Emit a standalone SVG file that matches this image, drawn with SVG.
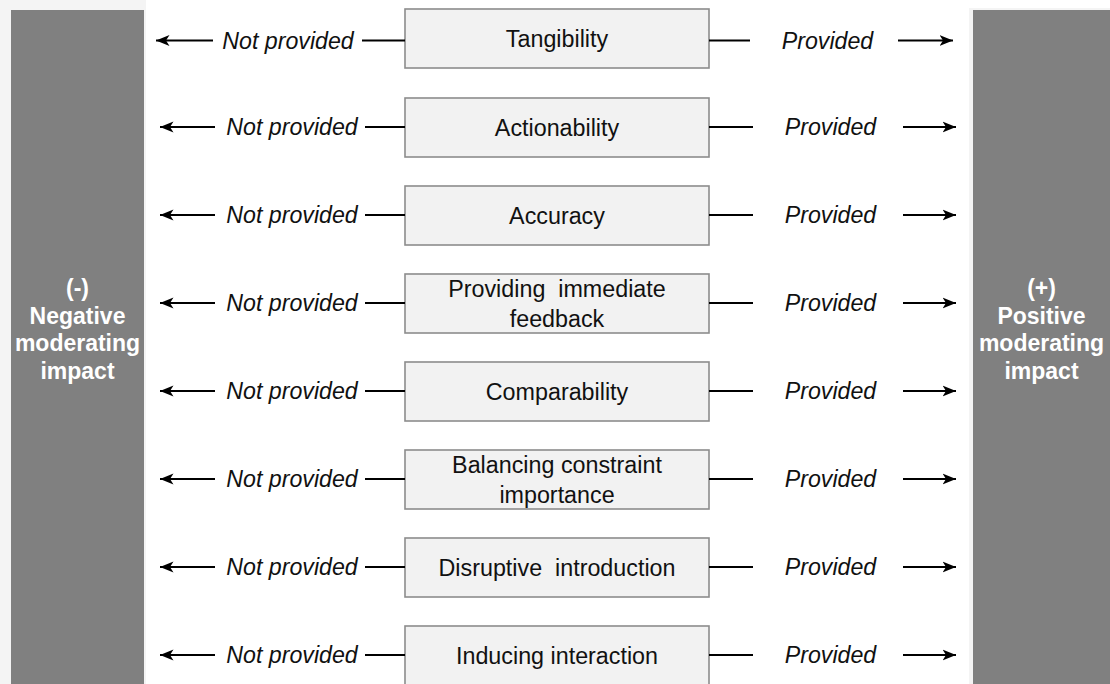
<svg xmlns="http://www.w3.org/2000/svg" width="1110" height="684" viewBox="0 0 1110 684">
  <defs>
    <style>
      .bg { fill: #ffffff; }
      .pane { fill: #f4f4f4; }
      .bar { fill: #808080; }
      .bar-text { font-family: "Liberation Sans", Arial, sans-serif; font-size: 23px; font-weight: bold; fill: #ffffff; text-anchor: middle; }
      .box { fill: #f2f2f2; stroke: #8c8c8c; stroke-width: 1.6; }
      .box-text { font-family: "Liberation Sans", Arial, sans-serif; font-size: 23.3px; fill: #111111; text-anchor: middle; white-space: pre; }
      .label { font-family: "Liberation Sans", Arial, sans-serif; font-size: 23.2px; font-style: italic; fill: #111111; text-anchor: middle; }
      .wire { stroke: #000000; stroke-width: 1.8; fill: none; }
      .arrow { stroke: #000000; stroke-width: 1.8; fill: none; marker-end: url(#head); }
    </style>
    <marker id="head" markerUnits="userSpaceOnUse" markerWidth="14" markerHeight="12" viewBox="0 0 14 12" refX="13.5" refY="6" orient="auto">
      <path d="M0,0.5 L13.5,6 L0,11.5 L3.5,6 Z" fill="#000000"/>
    </marker>
  </defs>

  <rect class="bg" x="0" y="0" width="1110" height="684"/>

  <!-- side panels -->
  <g id="negative-impact">
    <rect class="pane" x="0" y="0" width="146" height="684"/>
    <rect class="bar" x="11" y="10" width="133" height="674"/>
    <text class="bar-text" x="77.5" y="296">(-)</text>
    <text class="bar-text" x="77.5" y="323.5">Negative</text>
    <text class="bar-text" x="77.5" y="351">moderating</text>
    <text class="bar-text" x="77.5" y="378.5">impact</text>
  </g>
  <g id="positive-impact">
    <rect class="pane" x="969" y="8" width="141" height="676"/>
    <rect class="bar" x="973" y="10" width="137" height="674"/>
    <text class="bar-text" x="1041.5" y="296">(+)</text>
    <text class="bar-text" x="1041.5" y="323.5">Positive</text>
    <text class="bar-text" x="1041.5" y="351">moderating</text>
    <text class="bar-text" x="1041.5" y="378.5">impact</text>
  </g>

  <!-- factor boxes -->
  <g id="tangibility">
    <rect class="box" x="405" y="9" width="304" height="59"/>
    <text class="box-text" x="557" y="47">Tangibility</text>
  </g>
  <g id="actionability">
    <rect class="box" x="405" y="98" width="304" height="59"/>
    <text class="box-text" x="557" y="136">Actionability</text>
  </g>
  <g id="accuracy">
    <rect class="box" x="405" y="186" width="304" height="59"/>
    <text class="box-text" x="557" y="224">Accuracy</text>
  </g>
  <g id="immediate-feedback">
    <rect class="box" x="405" y="274" width="304" height="59"/>
    <text class="box-text" x="557" y="297">Providing  immediate</text>
    <text class="box-text" x="557" y="327">feedback</text>
  </g>
  <g id="comparability">
    <rect class="box" x="405" y="362" width="304" height="59"/>
    <text class="box-text" x="557" y="400">Comparability</text>
  </g>
  <g id="constraint-importance">
    <rect class="box" x="405" y="450" width="304" height="59"/>
    <text class="box-text" x="557" y="473">Balancing constraint</text>
    <text class="box-text" x="557" y="503">importance</text>
  </g>
  <g id="disruptive-introduction">
    <rect class="box" x="405" y="538" width="304" height="59"/>
    <text class="box-text" x="557" y="576">Disruptive  introduction</text>
  </g>
  <g id="inducing-interaction">
    <rect class="box" x="405" y="626" width="304" height="59"/>
    <text class="box-text" x="557" y="664">Inducing interaction</text>
  </g>

  <!-- connectors and their labels -->
  <g id="connectors">
    <!-- row 1 -->
    <line class="wire" x1="405" y1="40.5" x2="362" y2="40.5"/>
    <line class="arrow" x1="213" y1="40.5" x2="156" y2="40.5"/>
    <text class="label" x="288" y="49">Not provided</text>
    <line class="wire" x1="709" y1="40.5" x2="750" y2="40.5"/>
    <text class="label" x="827.5" y="49">Provided</text>
    <line class="arrow" x1="898" y1="40.5" x2="953" y2="40.5"/>

    <!-- rows 2 to 8 -->
    <line class="wire" x1="405" y1="127" x2="365" y2="127"/>
    <line class="arrow" x1="215" y1="127" x2="160" y2="127"/>
    <text class="label" x="292" y="135">Not provided</text>
    <line class="wire" x1="709" y1="127" x2="753" y2="127"/>
    <text class="label" x="830.5" y="135">Provided</text>
    <line class="arrow" x1="903" y1="127" x2="956" y2="127"/>

    <line class="wire" x1="405" y1="215" x2="365" y2="215"/>
    <line class="arrow" x1="215" y1="215" x2="160" y2="215"/>
    <text class="label" x="292" y="223">Not provided</text>
    <line class="wire" x1="709" y1="215" x2="753" y2="215"/>
    <text class="label" x="830.5" y="223">Provided</text>
    <line class="arrow" x1="903" y1="215" x2="956" y2="215"/>

    <line class="wire" x1="405" y1="303" x2="365" y2="303"/>
    <line class="arrow" x1="215" y1="303" x2="160" y2="303"/>
    <text class="label" x="292" y="311">Not provided</text>
    <line class="wire" x1="709" y1="303" x2="753" y2="303"/>
    <text class="label" x="830.5" y="311">Provided</text>
    <line class="arrow" x1="903" y1="303" x2="956" y2="303"/>

    <line class="wire" x1="405" y1="391" x2="365" y2="391"/>
    <line class="arrow" x1="215" y1="391" x2="160" y2="391"/>
    <text class="label" x="292" y="399">Not provided</text>
    <line class="wire" x1="709" y1="391" x2="753" y2="391"/>
    <text class="label" x="830.5" y="399">Provided</text>
    <line class="arrow" x1="903" y1="391" x2="956" y2="391"/>

    <line class="wire" x1="405" y1="479" x2="365" y2="479"/>
    <line class="arrow" x1="215" y1="479" x2="160" y2="479"/>
    <text class="label" x="292" y="487">Not provided</text>
    <line class="wire" x1="709" y1="479" x2="753" y2="479"/>
    <text class="label" x="830.5" y="487">Provided</text>
    <line class="arrow" x1="903" y1="479" x2="956" y2="479"/>

    <line class="wire" x1="405" y1="567" x2="365" y2="567"/>
    <line class="arrow" x1="215" y1="567" x2="160" y2="567"/>
    <text class="label" x="292" y="575">Not provided</text>
    <line class="wire" x1="709" y1="567" x2="753" y2="567"/>
    <text class="label" x="830.5" y="575">Provided</text>
    <line class="arrow" x1="903" y1="567" x2="956" y2="567"/>

    <line class="wire" x1="405" y1="655" x2="365" y2="655"/>
    <line class="arrow" x1="215" y1="655" x2="160" y2="655"/>
    <text class="label" x="292" y="663">Not provided</text>
    <line class="wire" x1="709" y1="655" x2="753" y2="655"/>
    <text class="label" x="830.5" y="663">Provided</text>
    <line class="arrow" x1="903" y1="655" x2="956" y2="655"/>
  </g>
</svg>
